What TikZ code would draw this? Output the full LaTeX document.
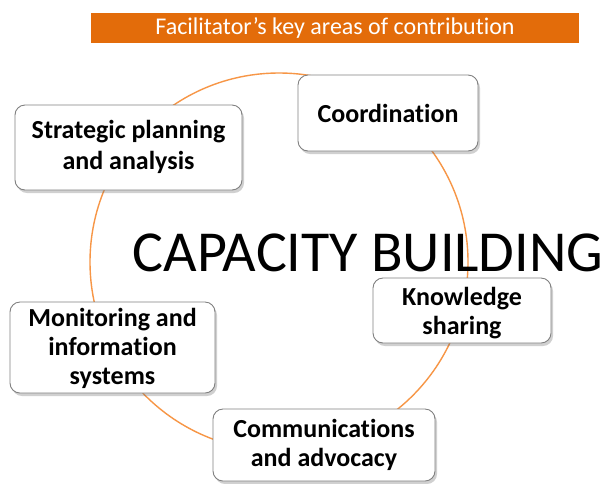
\documentclass[tikz,border=0pt]{standalone}
\usepackage{fontspec}
\setmainfont{Carlito}[Ligatures=NoCommon]
\usetikzlibrary{shadows}
\definecolor{bannerorange}{HTML}{E36C0A}
\definecolor{ringorange}{HTML}{F79646}
\definecolor{boxline}{HTML}{808080}
% centred lines of box text; the optional length is extra room above them,
% which sets the lines lower in their box by half of it
\newcommand\arealines[2][0pt]{\raisebox{0pt}[\dimexpr\height+#1\relax]{\begin{tabular}{@{}c@{}}#2\end{tabular}}}
\begin{document}
\begin{tikzpicture}[x=1pt,y=-1pt,
  ring/.style={draw=ringorange, line width=1.4pt},
  areabox/.style={draw=boxline, line width=0.9pt, fill=white, rounded corners=10pt,
    drop shadow={shadow xshift=2pt, shadow yshift=-3pt, opacity=0.3, fill=black!60},
    inner sep=0pt, font=\fontsize{26}{31}\selectfont\bfseries},
  banner/.style={fill=bannerorange, text=white, inner sep=0pt,
    font=\fontsize{24}{28}\selectfont}]
  \useasboundingbox (0,0) rectangle (609,483);
  \fill[white] (0,0) rectangle (609,483);

  % title banner
  \node[banner, minimum width=488pt, minimum height=30pt] (title) at (335,28)
    {Facilitator’s key areas of contribution};

  % cycle ring behind the boxes
  \draw[ring] (279,262) circle (189);

  % the five areas
  \node[areabox, minimum width=180pt, minimum height=76pt] (coord) at (388,113) {Coordination};
  \node[areabox, minimum width=227pt, minimum height=85pt] (strat) at (128.5,147.5)
    {\arealines{Strategic planning\\and analysis}};
  \node[areabox, minimum width=178pt, minimum height=65pt] (know) at (462,310.5)
    {\fontsize{26}{29}\selectfont\arealines[7pt]{Knowledge\\sharing}};
  \node[areabox, minimum width=205pt, minimum height=85pt] (monit) at (112.5,347.5)
    {\fontsize{26}{29}\selectfont\arealines[4pt]{Monitoring and\\information\\systems}};
  \node[areabox, minimum width=222pt, minimum height=72pt] (comm) at (324,445)
    {\fontsize{26}{29}\selectfont\arealines[2pt]{Communications\\and advocacy}};

  % central label
  \node[anchor=base, inner sep=0pt, text height=37pt, text depth=0pt,
    font=\fontsize{58}{60}\selectfont] (cap) at (368,271) {CAPACITY BUILDING};
\end{tikzpicture}
\end{document}
